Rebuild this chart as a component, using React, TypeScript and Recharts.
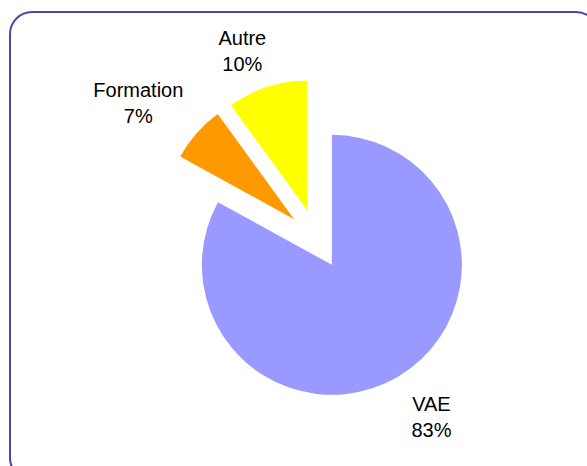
import { Cell, Pie, PieChart } from "recharts";

const CATEGORIES = ["VAE", "Formation", "Autre"];
const SHARES = [83, 7, 10];
const SHARE_LABELS = ["83%", "7%", "10%"];
const COLORS = ["#9999FF", "#FF9900", "#FFFF00"];

const W = 587;
const H = 466;
const CENTER = { x: 316.6, y: 239 };
const RADIUS = 130;
const EXPLODE = 30;
const FONT = "20px 'Liberation Sans', Arial, sans-serif";
const LINE = 26;
const LABEL_GAP = 19;
const LABEL_TURN = 3.5; // degrees, labels drift slightly ccw like the original

const slices = CATEGORIES.map((name, i) => ({ name, value: SHARES[i], pct: SHARE_LABELS[i] }));
const total = SHARES.reduce((a, b) => a + b, 0);

// clockwise angle from 12 o'clock for each slice middle
const midAngles = SHARES.map((v, i) => {
  const before = SHARES.slice(0, i).reduce((a, b) => a + b, 0);
  return ((before + v / 2) / total) * 360;
});

let ctx: CanvasRenderingContext2D | null = null;
function textWidth(s: string) {
  if (!ctx) ctx = document.createElement("canvas").getContext("2d");
  if (!ctx) return s.length * 10;
  ctx.font = FONT;
  return ctx.measureText(s).width;
}

function makeLabel(only: number) {
  return (p: any) => {
    if (p.index !== only) return null;
    const d = slices[only];
    // recharts midAngle: ccw from 3 o'clock
    const a = ((p.midAngle + LABEL_TURN) * Math.PI) / 180;
    const dx = Math.cos(a);
    const dy = -Math.sin(a);
    const w = Math.max(textWidth(d.name), textWidth(d.pct));
    const h = LINE + 16;
    const ext = (w / 2) * Math.abs(dx) + (h / 2) * Math.abs(dy);
    const dist = p.outerRadius + LABEL_GAP + ext;
    const x = p.cx + dist * dx;
    const y = p.cy + dist * dy;
    return (
      <text x={x} y={y} textAnchor="middle" fill="#000" style={{ font: FONT }}>
        <tspan x={x} y={y - LINE / 2 + 12}>{d.name}</tspan>
        <tspan x={x} y={y + LINE / 2 + 12}>{d.pct}</tspan>
      </text>
    );
  };
}

export default function App() {
  return (
    <div style={{ position: "absolute", left: 0, top: 0, width: W, height: H, overflow: "hidden", background: "#fff" }}>
      <div
        style={{
          position: "absolute",
          left: 9,
          top: 11,
          width: 590,
          height: 470,
          border: "2px solid #4848A8",
          borderRadius: 23,
          boxSizing: "border-box",
        }}
      />
      <div style={{ position: "absolute", left: 0, top: 0 }}>
        <PieChart width={W} height={H} margin={{ top: 0, right: 0, bottom: 0, left: 0 }}>
          {slices.map((s, i) => {
            const t = (midAngles[i] * Math.PI) / 180;
            return (
              <Pie
                key={s.name}
                data={slices}
                dataKey="value"
                nameKey="name"
                cx={CENTER.x + EXPLODE * Math.sin(t)}
                cy={CENTER.y - EXPLODE * Math.cos(t)}
                outerRadius={RADIUS}
                startAngle={90}
                endAngle={-270}
                stroke="none"
                labelLine={false}
                label={makeLabel(i)}
                isAnimationActive={false}
              >
                {slices.map((c, j) => (
                  <Cell key={c.name} fill={j === i ? COLORS[i] : "none"} />
                ))}
              </Pie>
            );
          })}
        </PieChart>
      </div>
    </div>
  );
}
